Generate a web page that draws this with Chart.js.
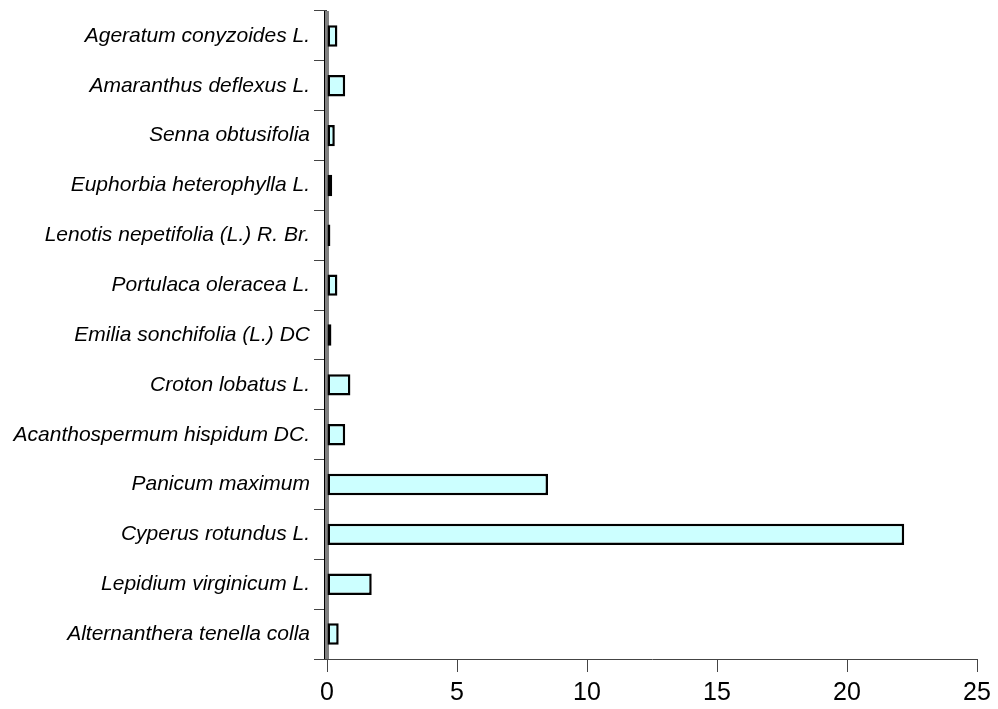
<!DOCTYPE html>
<html>
<head>
<meta charset="utf-8">
<script src="https://cdn.jsdelivr.net/npm/chart.js@4/dist/chart.umd.min.js"></script>
<style>
  html, body { margin: 0; padding: 0; background: #fff; }
  #wrap { width: 998px; height: 709px; }
</style>
</head>
<body>
<div id="wrap"><canvas id="c" width="998" height="709"></canvas></div>
<script>
// Weed species, listed top to bottom
const species = [
  'Ageratum conyzoides L.',
  'Amaranthus deflexus L.',
  'Senna obtusifolia',
  'Euphorbia heterophylla L.',
  'Lenotis nepetifolia (L.) R. Br.',
  'Portulaca oleracea L.',
  'Emilia sonchifolia (L.) DC',
  'Croton lobatus L.',
  'Acanthospermum hispidum DC.',
  'Panicum maximum',
  'Cyperus rotundus L.',
  'Lepidium virginicum L.',
  'Alternanthera tenella colla'
];
const values = [0.4, 0.7, 0.3, 0.2, 0.13, 0.4, 0.17, 0.9, 0.7, 8.5, 22.2, 1.72, 0.45];
const xTicks = [0, 5, 10, 15, 20, 25];

// Gray "wall" strip along the category axis, drawn under the bars
const wallPlugin = {
  id: 'wall',
  beforeDatasetsDraw(chart) {
    const { ctx, chartArea: a } = chart;
    ctx.save();
    ctx.fillStyle = '#808080';
    ctx.fillRect(a.left - 2, a.top, 4, a.bottom - a.top);
    ctx.fillStyle = '#000';
    ctx.fillRect(a.left - 3, a.top, 1, a.bottom - a.top);
    ctx.restore();
  }
};

new Chart(document.getElementById('c'), {
  type: 'bar',
  data: {
    labels: species,
    datasets: [{
      data: values,
      backgroundColor: '#ccffff',
      borderColor: '#000',
      borderWidth: 2.5,
      borderSkipped: false,
      barPercentage: 0.43,
      categoryPercentage: 1
    }]
  },
  options: {
    indexAxis: 'y',
    responsive: false,
    animation: false,
    layout: { padding: { top: 11, right: 21, left: 0, bottom: 0 } },
    plugins: { legend: { display: false }, tooltip: { enabled: false } },
    scales: {
      x: {
        min: 0, max: 25,
        afterBuildTicks(axis) { axis.ticks = xTicks.map(v => ({ value: v })); },
        grid: { drawOnChartArea: false, tickLength: 13, color: '#444', lineWidth: 1 },
        border: { color: '#444', width: 1 },
        ticks: {
          color: '#000', padding: 6,
          font: { family: '"Liberation Sans", Arial', size: 25 }
        },
        afterFit(axis) { axis.height = 50; }
      },
      y: {
        offset: true,
        grid: { offset: true, drawOnChartArea: false, tickLength: 13, color: '#444', lineWidth: 1 },
        border: { color: '#444', width: 1 },
        ticks: {
          color: '#000', padding: 4,
          font: { family: '"Liberation Sans", Arial', size: 21, style: 'italic' }
        },
        afterFit(axis) {
          axis.width = 327;
          axis.paddingTop = 0;
          axis.paddingBottom = 0;
        }
      }
    }
  },
  plugins: [wallPlugin]
});
</script>
</body>
</html>
